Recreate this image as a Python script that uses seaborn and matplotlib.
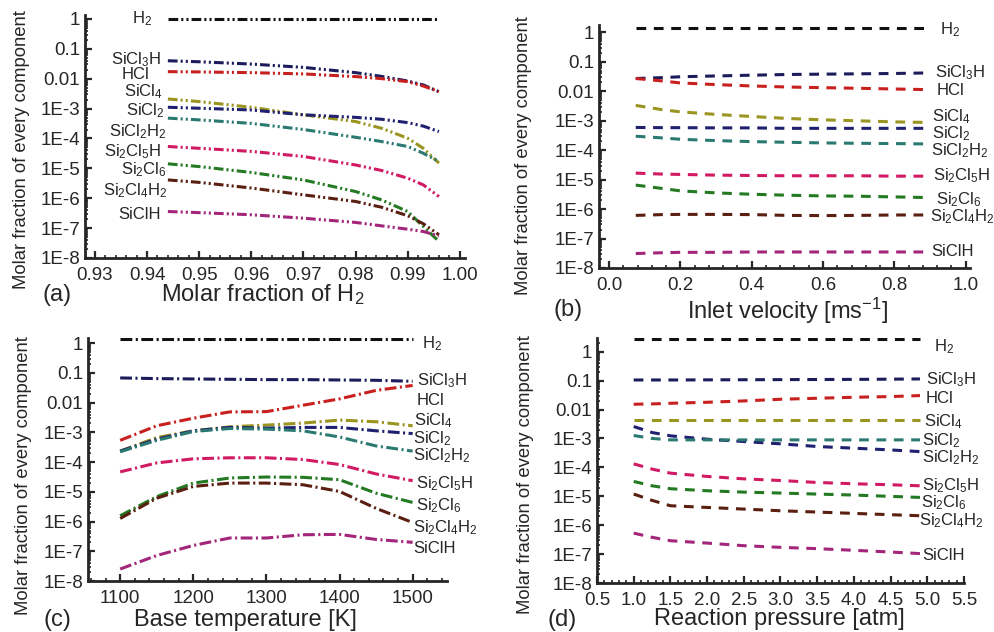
import numpy as np
import pandas as pd
import seaborn as sns
import matplotlib.pyplot as plt
from matplotlib.ticker import (FixedLocator, FixedFormatter, LogLocator,
                               NullFormatter, MultipleLocator, FormatStrFormatter)

species = ['H2', 'SiCl3H', 'HCl', 'SiCl4', 'SiCl2', 'SiCl2H2',
           'Si2Cl5H', 'Si2Cl6', 'Si2Cl4H2', 'SiClH']
names = {'H2': 'H$_2$', 'SiCl3H': 'SiCl$_3$H', 'HCl': 'HCl', 'SiCl4': 'SiCl$_4$',
         'SiCl2': 'SiCl$_2$', 'SiCl2H2': 'SiCl$_2$H$_2$', 'Si2Cl5H': 'Si$_2$Cl$_5$H',
         'Si2Cl6': 'Si$_2$Cl$_6$', 'Si2Cl4H2': 'Si$_2$Cl$_4$H$_2$', 'SiClH': 'SiClH'}
colors = {'H2': '#111111', 'SiCl3H': '#1c1c5c', 'HCl': '#c8201e', 'SiCl4': '#9a9420',
          'SiCl2': '#202070', 'SiCl2H2': '#2a7a72', 'Si2Cl5H': '#d21a64',
          'Si2Cl6': '#237a23', 'Si2Cl4H2': '#5a1f10', 'SiClH': '#a3267a'}

ytick_vals = [1, 0.1, 0.01, 1e-3, 1e-4, 1e-5, 1e-6, 1e-7, 1e-8]
ytick_text = ['1', '0.1', '0.01', '1E-3', '1E-4', '1E-5', '1E-6', '1E-7', '1E-8']

# (a) molar fraction of H2
a_x = [0.944, 0.95, 0.96, 0.97, 0.98, 0.985, 0.99, 0.993, 0.996]
a_vals = {
    'H2':       [1.0, 1.0, 1.0, 1.0, 1.0, 1.0, 1.0, 1.0, 1.0],
    'SiCl3H':   [0.040, 0.037, 0.031, 0.024, 0.016, 0.012, 0.0084, 0.0062, 0.0037],
    'HCl':      [0.0173, 0.0169, 0.016, 0.0145, 0.0118, 0.0101, 0.0080, 0.0057, 0.0037],
    'SiCl4':    [2.1e-3, 1.72e-3, 1.11e-3, 6.2e-4, 3.7e-4, 2.2e-4, 1.02e-4, 4.7e-5, 1.5e-5],
    'SiCl2':    [1.11e-3, 1.03e-3, 9.0e-4, 6.2e-4, 5.1e-4, 4.4e-4, 3.4e-4, 2.6e-4, 1.7e-4],
    'SiCl2H2':  [4.8e-4, 4.2e-4, 3.2e-4, 2.0e-4, 1.1e-4, 7.9e-5, 5.4e-5, 3.2e-5, 1.7e-5],
    'Si2Cl5H':  [5.4e-5, 4.7e-5, 3.7e-5, 2.5e-5, 1.3e-5, 8.5e-6, 4.7e-6, 2.8e-6, 1.14e-6],
    'Si2Cl6':   [1.42e-5, 1.15e-5, 7.3e-6, 4.1e-6, 1.68e-6, 8.8e-7, 3.6e-7, 1.13e-7, 3.6e-8],
    'Si2Cl4H2': [4.1e-6, 3.4e-6, 2.2e-6, 1.3e-6, 7.8e-7, 5.0e-7, 2.6e-7, 1.4e-7, 6.0e-8],
    'SiClH':    [3.6e-7, 3.3e-7, 2.8e-7, 2.15e-7, 1.55e-7, 1.19e-7, 9.2e-8, 7.7e-8, 5.5e-8],
}

# (b) inlet velocity
b_x = [0.075, 0.15, 0.2, 0.3, 0.4, 0.5, 0.6, 0.7, 0.8, 0.9]
b_vals = {
    'H2':       [1.45, 1.45, 1.45, 1.45, 1.45, 1.45, 1.45, 1.45, 1.45, 1.45],
    'SiCl3H':   [0.027, 0.029, 0.031, 0.033, 0.035, 0.037, 0.038, 0.039, 0.040, 0.042],
    'HCl':      [0.027, 0.0223, 0.0191, 0.0168, 0.0151, 0.0139, 0.0132, 0.0126, 0.0119, 0.0113],
    'SiCl4':    [3.3e-3, 2.35e-3, 2.0e-3, 1.63e-3, 1.39e-3, 1.19e-3, 1.07e-3, 9.9e-4, 9.1e-4, 8.7e-4],
    'SiCl2':    [5.9e-4, 5.8e-4, 5.8e-4, 5.7e-4, 5.7e-4, 5.5e-4, 5.5e-4, 5.5e-4, 5.5e-4, 5.5e-4],
    'SiCl2H2':  [2.97e-4, 2.6e-4, 2.34e-4, 2.11e-4, 1.95e-4, 1.85e-4, 1.76e-4, 1.71e-4, 1.67e-4, 1.62e-4],
    'Si2Cl5H':  [1.66e-5, 1.54e-5, 1.5e-5, 1.42e-5, 1.38e-5, 1.35e-5, 1.35e-5, 1.35e-5, 1.31e-5, 1.31e-5],
    'Si2Cl6':   [6.5e-6, 5.0e-6, 4.15e-6, 3.54e-6, 3.19e-6, 2.95e-6, 2.8e-6, 2.73e-6, 2.59e-6, 2.45e-6],
    'Si2Cl4H2': [6.1e-7, 6.5e-7, 6.6e-7, 6.6e-7, 6.5e-7, 6.1e-7, 6.0e-7, 6.1e-7, 6.3e-7, 6.3e-7],
    'SiClH':    [3.1e-8, 3.3e-8, 3.4e-8, 3.4e-8, 3.5e-8, 3.5e-8, 3.5e-8, 3.5e-8, 3.5e-8, 3.5e-8],
}

# (c) base temperature
c_x = [1100, 1150, 1200, 1250, 1300, 1350, 1400, 1450, 1500]
c_vals = {
    'H2':       [1.35, 1.35, 1.35, 1.35, 1.35, 1.35, 1.35, 1.35, 1.35],
    'SiCl3H':   [0.068, 0.0646, 0.0628, 0.0612, 0.0597, 0.0597, 0.058, 0.0566, 0.0524],
    'HCl':      [5.4e-4, 1.67e-3, 3.0e-3, 4.9e-3, 5.0e-3, 8.2e-3, 0.0134, 0.0259, 0.038],
    'SiCl4':    [2.35e-4, 6.7e-4, 1.13e-3, 1.54e-3, 1.76e-3, 2.06e-3, 2.6e-3, 2.28e-3, 1.67e-3],
    'SiCl2':    [2.35e-4, 5.9e-4, 1.13e-3, 1.47e-3, 1.39e-3, 1.47e-3, 1.47e-3, 1.13e-3, 9.1e-4],
    'SiCl2H2':  [2.23e-4, 5.4e-4, 1.07e-3, 1.35e-3, 1.29e-3, 1.13e-3, 7.0e-4, 3.5e-4, 2.35e-4],
    'Si2Cl5H':  [4.7e-5, 9.4e-5, 1.29e-4, 1.4e-4, 1.4e-4, 1.22e-4, 8.3e-5, 4.0e-5, 2.37e-5],
    'Si2Cl6':   [1.57e-6, 6.9e-6, 1.97e-5, 2.92e-5, 3.15e-5, 3.08e-5, 2.56e-5, 9.0e-6, 4.4e-6],
    'Si2Cl4H2': [1.27e-6, 6.1e-6, 1.52e-5, 1.97e-5, 1.97e-5, 1.73e-5, 1.03e-5, 2.78e-6, 9.3e-7],
    'SiClH':    [2.53e-8, 7.2e-8, 1.57e-7, 2.8e-7, 2.8e-7, 3.6e-7, 3.7e-7, 2.5e-7, 2.0e-7],
}

# (d) reaction pressure
d_x = [1.0, 1.25, 1.5, 2.0, 2.5, 3.0, 3.5, 4.0, 4.5, 4.9]
d_vals = {
    'H2':       [2.67, 2.67, 2.67, 2.67, 2.67, 2.67, 2.67, 2.67, 2.67, 2.67],
    'SiCl3H':   [0.105, 0.105, 0.105, 0.106, 0.107, 0.108, 0.109, 0.110, 0.112, 0.114],
    'HCl':      [0.0152, 0.0156, 0.0164, 0.0178, 0.0198, 0.0226, 0.0245, 0.0265, 0.028, 0.0303],
    'SiCl4':    [4.4e-3, 4.4e-3, 4.4e-3, 4.4e-3, 4.4e-3, 4.4e-3, 4.4e-3, 4.4e-3, 4.4e-3, 4.4e-3],
    'SiCl2':    [2.58e-3, 1.6e-3, 1.23e-3, 9.4e-4, 7.8e-4, 6.5e-4, 5.25e-4, 4.6e-4, 4.0e-4, 3.5e-4],
    'SiCl2H2':  [1.26e-3, 1.0e-3, 8.9e-4, 8.9e-4, 8.9e-4, 8.9e-4, 8.9e-4, 8.9e-4, 8.9e-4, 8.9e-4],
    'Si2Cl5H':  [1.32e-4, 8.7e-5, 6.3e-5, 4.84e-5, 4.0e-5, 3.5e-5, 3.0e-5, 2.7e-5, 2.5e-5, 2.3e-5],
    'Si2Cl6':   [3.25e-5, 2.3e-5, 1.82e-5, 1.55e-5, 1.39e-5, 1.29e-5, 1.19e-5, 1.1e-5, 9.9e-6, 9.1e-6],
    'Si2Cl4H2': [1.19e-5, 7.2e-6, 4.7e-6, 4.1e-6, 3.6e-6, 3.15e-6, 2.84e-6, 2.55e-6, 2.3e-6, 2.12e-6],
    'SiClH':    [5.3e-7, 3.8e-7, 2.9e-7, 2.4e-7, 1.95e-7, 1.71e-7, 1.54e-7, 1.35e-7, 1.18e-7, 1.04e-7],
}

# where the species names sit, in data coordinates
a_lab = {'H2': (0.9409, 1.0), 'SiCl3H': (0.9427, 0.0426), 'HCl': (0.9405, 0.0134),
         'SiCl4': (0.9430, 3.6e-3), 'SiCl2': (0.9434, 8.8e-4), 'SiCl2H2': (0.9438, 1.75e-4),
         'Si2Cl5H': (0.9427, 3.6e-5), 'Si2Cl6': (0.9438, 8.8e-6), 'Si2Cl4H2': (0.9440, 1.8e-6),
         'SiClH': (0.9427, 2.75e-7)}
b_lab = {'H2': (0.928, 1.2), 'SiCl3H': (0.915, 0.0425), 'HCl': (0.918, 0.0104),
         'SiCl4': (0.906, 1.4e-3), 'SiCl2': (0.906, 3.6e-4), 'SiCl2H2': (0.903, 9.4e-5),
         'Si2Cl5H': (0.908, 1.32e-5), 'Si2Cl6': (0.918, 2.1e-6), 'Si2Cl4H2': (0.900, 5.5e-7),
         'SiClH': (0.903, 3.6e-8)}
c_lab = {'H2': (1513, 1.0), 'SiCl3H': (1506, 0.053), 'HCl': (1506, 0.0121),
         'SiCl4': (1502, 2.4e-3), 'SiCl2': (1501, 6.2e-4), 'SiCl2H2': (1500, 1.6e-4),
         'Si2Cl5H': (1505, 1.95e-5), 'Si2Cl6': (1504, 3.4e-6), 'Si2Cl4H2': (1501, 6.1e-7),
         'SiClH': (1501, 1.25e-7)}
d_lab = {'H2': (5.09, 1.49), 'SiCl3H': (4.98, 0.105), 'HCl': (4.98, 0.0245),
         'SiCl4': (4.957, 3.7e-3), 'SiCl2': (4.934, 8.5e-4), 'SiCl2H2': (4.934, 2.15e-4),
         'Si2Cl5H': (4.934, 2.4e-5), 'Si2Cl6': (4.91, 6.1e-6), 'Si2Cl4H2': (4.888, 1.46e-6),
         'SiClH': (4.934, 8.8e-8)}

sns.set_style('ticks')
plt.rcParams['font.family'] = ['Liberation Sans', 'DejaVu Sans']
plt.rcParams['mathtext.default'] = 'regular'
plt.rcParams['lines.scale_dashes'] = False

W, H = 994, 632
fig = plt.figure(figsize=(W / 100, H / 100), dpi=100)


def box(left, right, top, bottom):
    return [left / W, 1 - bottom / H, (right - left) / W, (bottom - top) / H]


def panel(rect, x, vals, labels, ha, xlim, ylim_top, major, minor, fmt, dashes):
    ax = fig.add_axes(rect)
    ax.set_yscale('log')
    df = pd.concat([pd.DataFrame({'x': x, 'y': vals[sp], 'species': sp}) for sp in species])
    sns.lineplot(data=df, x='x', y='y', hue='species', hue_order=species, palette=colors,
                 estimator=None, sort=False, lw=2.2, legend=False, ax=ax)
    for line in ax.lines:
        line.set_dashes(dashes)
    for sp in species:
        lx, ly = labels[sp]
        ax.text(lx, ly, names[sp], ha=ha, va='center', fontsize=12, clip_on=False)
    ax.set_xlim(*xlim)
    ax.set_ylim(1e-8, ylim_top)
    ax.xaxis.set_major_locator(MultipleLocator(major))
    ax.xaxis.set_minor_locator(MultipleLocator(minor))
    ax.xaxis.set_major_formatter(FormatStrFormatter(fmt))
    ax.yaxis.set_major_locator(FixedLocator(ytick_vals))
    ax.yaxis.set_major_formatter(FixedFormatter(ytick_text))
    ax.yaxis.set_minor_locator(LogLocator(base=10, subs=np.arange(2, 10), numticks=100))
    ax.yaxis.set_minor_formatter(NullFormatter())
    ax.set_xlabel('')
    ax.set_ylabel('')
    ax.tick_params(which='major', direction='in', length=5, width=1.6, labelsize=13.5)
    ax.tick_params(which='minor', direction='in', length=2.5, width=1.2)
    ax.tick_params(axis='x', pad=6.5)
    ax.tick_params(axis='y', pad=3.5)
    sns.despine(ax=ax)
    for s in ['left', 'bottom']:
        ax.spines[s].set_linewidth(2)
    return ax


panel(box(85, 465, 15, 258), a_x, a_vals, a_lab, 'right', (0.9281, 1.001), 1.36,
      0.01, 0.002, '%.2f', (7, 2.2, 1.5, 2.2, 1.5, 2.2))
panel(box(599, 970, 25, 268), b_x, b_vals, b_lab, 'left', (-0.028, 1.012), 1.77,
      0.2, 0.04, '%.1f', (7, 5.5))
panel(box(88, 447, 338, 581), c_x, c_vals, c_lab, 'left', (1056, 1547), 1.5,
      100, 20, '%d', (8.5, 2.5, 1.5, 2.5))
panel(box(597, 964, 338, 583), d_x, d_vals, d_lab, 'left', (0.5, 5.5), 2.97,
      0.5, 0.1, '%.1f', (7, 5.5))


def px_text(x, y, s, **kw):
    fig.text(x / W, 1 - y / H, s, ha='center', va='center', **kw)


for x, y, s in [(263, 295, 'Molar fraction of H$_2$'), (788, 311, 'Inlet velocity [ms$^{-1}$]'),
                (245, 620, 'Base temperature [K]'), (779, 619, 'Reaction pressure [atm]')]:
    px_text(x, y, s, fontsize=17)
for x, y, s in [(57, 295, '(a)'), (568, 310, '(b)'), (57, 620, '(c)'), (562, 620, '(d)')]:
    px_text(x, y, s, fontsize=17)
for x, y in [(22, 150), (523, 156), (24, 476), (525, 475)]:
    px_text(x, y, 'Molar fraction of every component', fontsize=13.3, rotation=90)

fig.savefig('out.png', dpi=100)
